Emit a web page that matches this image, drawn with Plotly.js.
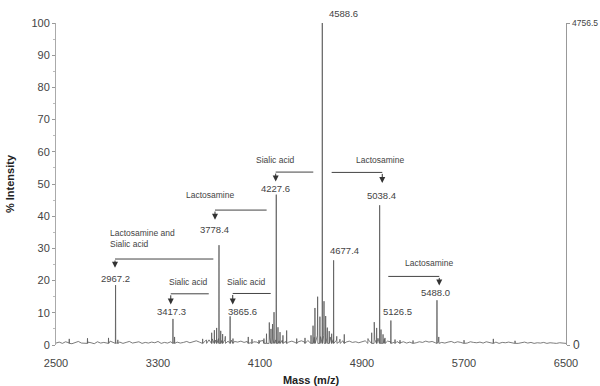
<!DOCTYPE html>
<html>
<head>
<meta charset="utf-8">
<script src="https://cdn.plot.ly/plotly-3.0.1.min.js"></script>
<style>html,body{margin:0;padding:0;background:#fff;}#chart{width:600px;height:386px;}</style>
</head>
<body>
<div id="chart"></div>
<script>
// ---- Data ----
// Labelled peaks (mass m/z, % intensity)
const labelledMass = [2967.2, 3417.3, 3778.4, 3865.6, 4227.6, 4588.6, 4677.4, 5038.4, 5126.5, 5488.0];
const labelledInt  = [18.6, 8.1, 31.0, 8.9, 46.7, 100, 26.3, 43.4, 7.6, 13.9];

// Minor (unlabelled) peaks
const minorMass = [2604, 2747, 2912, 2985, 3430, 3650, 3680,
  3721, 3742, 3760, 3792, 3807, 3828, 3888, 4008, 4037, 4092,
  4131, 4151, 4173, 4186, 4198, 4210, 4241, 4257, 4280, 4309, 4388, 4453,
  4500, 4516, 4531, 4552, 4570, 4602, 4615, 4628, 4643, 4662, 4702, 4727, 4761,
  4947, 4976, 4996, 5015, 5049, 5065, 5080, 5159, 5198,
  5300, 5502, 5700, 5930, 6100];
const minorInt = [1.9, 2.1, 2.2, 1.6, 2.5, 1.9, 1.6,
  3.8, 4.6, 5.3, 4.4, 3.4, 2.7, 2.0, 2.5, 1.8, 1.5,
  2.0, 3.5, 7.0, 5.0, 6.5, 10.2, 5.5, 4.0, 3.0, 4.5, 2.0, 2.2,
  3.0, 6.0, 11.5, 15.0, 8.8, 13.6, 9.0, 5.4, 4.3, 3.5, 2.7, 1.8, 3.3,
  2.0, 3.8, 7.1, 5.3, 4.8, 3.3, 2.2, 1.7, 1.5,
  1.4, 2.5, 1.5, 1.9, 1.3];

// Baseline noise, sampled every 25 m/z from 2500
const noiseStart = 2500, noiseStep = 25;
const noiseInt = [
  0.6,0.9,0.5,1.0,0.7,0.4,0.8,1.1,0.6,0.5,0.9,0.7,0.4,1.0,0.6,0.8,0.5,1.2,0.7,0.6,
  0.9,0.5,0.8,1.1,0.6,0.7,1.0,0.5,0.8,0.6,0.9,0.7,1.1,0.5,0.8,0.6,1.0,0.7,0.9,0.6,
  0.8,1.1,0.7,1.0,1.3,0.9,1.2,1.4,
  1.6,1.9,1.5,2.0,1.4,1.7,1.2,1.5,1.1,
  0.9,1.2,0.8,1.1,0.7,1.0,0.9,1.2,
  1.4,1.8,2.2,1.9,1.6,1.3,1.5,1.1,
  0.9,1.2,0.8,1.0,1.3,0.9,1.4,
  1.8,2.4,2.9,2.6,3.0,2.2,2.5,1.7,1.5,
  1.1,1.3,0.9,1.2,0.8,1.0,0.7,1.1,1.3,
  1.6,2.0,1.7,2.1,1.5,1.8,1.2,
  1.0,0.8,1.1,0.7,1.0,0.6,0.9,1.1,0.7,1.0,0.8,1.2,0.9,1.1,0.7,1.0,0.8,0.6,0.9,1.1,
  0.7,1.0,0.8,0.9,0.6,1.0,0.8,0.7,0.9,0.6,1.0,0.8,0.7,0.9,0.5,0.8,0.7,0.9,0.6,0.8,
  0.5,0.7,0.9,0.6,0.8,0.5,0.7,0.6,0.8,0.5,0.7,0.6,0.5,0.7,0.6,0.5];

// Right axis: absolute counts at 100 %
const maxCounts = 4756.5;
const xTicks = [2500, 3300, 4100, 4900, 5700, 6500];

// Peak labels: text, x, y (data coords)
const peakLabelText = ['2967.2','3417.3','3865.6','3778.4','4227.6','5038.4','4677.4','5126.5','5488.0','4588.6'];
const peakLabelX    = [2970, 3402, 3964, 3747, 4220, 5049, 4759, 5177, 5480, 4751];
const peakLabelY    = [20.6, 10.4, 10.4, 36.0, 48.5, 46.4, 29.4, 10.4, 16.2, 103.1];

// Loss annotations: text, text x/y, elbow start x, arrow x, elbow y, arrow tip y
const lossText  = ['Lactosamine and<br>Sialic acid', 'Sialic acid', 'Sialic acid', 'Lactosamine', 'Sialic acid', 'Lactosamine', 'Lactosamine'];
const lossTextX = [2908, 3543, 3996, 3708, 4223, 5041, 5428];
const lossTextY = [33.1, 19.6, 19.6, 46.7, 57.3, 57.4, 25.5];
const lossFromX = [3734, 3698, 4184, 4152, 4518, 4662, 5106];
const lossToX   = [2963, 3400, 3886, 3747, 4223, 5059, 5506];
const lossLineY = [26.7, 15.9, 16.0, 41.9, 53.7, 53.6, 21.3];
const lossTipY  = [24.0, 12.6, 12.6, 38.9, 50.8, 50.3, 18.5];

// ---- Build the stick spectrum ----
const pts = [];
noiseInt.forEach((v, i) => pts.push([noiseStart + noiseStep * i, v]));
const allMass = labelledMass.concat(minorMass);
const allInt = labelledInt.concat(minorInt);
allMass.forEach((m, i) => {
  pts.push([m - 1.5, 0.5]);
  pts.push([m, allInt[i]]);
  pts.push([m + 1.5, 0.5]);
});
pts.sort((a, b) => a[0] - b[0]);

const FONT = 'Liberation Sans, Arial, sans-serif';
const txtColor = '#444';

const traces = [
  {
    x: pts.map(p => p[0]), y: pts.map(p => p[1]),
    type: 'scatter', mode: 'lines',
    line: {color: '#5a5a5a', width: 0.8},
    hoverinfo: 'skip', showlegend: false
  },
  {
    x: [], y: [], yaxis: 'y2', type: 'scatter', mode: 'lines',
    showlegend: false, hoverinfo: 'skip'
  }
];

const annotations = [];
peakLabelText.forEach((t, i) => {
  const above = peakLabelY[i] > 100;
  annotations.push({
    x: peakLabelX[i], y: above ? peakLabelY[i] / 100 : peakLabelY[i],
    xref: 'x', yref: above ? 'paper' : 'y', text: t,
    showarrow: false, xanchor: 'center', yanchor: 'middle',
    font: {family: FONT, size: 9.5, color: txtColor}
  });
});
lossText.forEach((t, i) => {
  const multi = t.indexOf('<br>') >= 0;
  annotations.push({
    x: lossTextX[i], y: lossTextY[i], xref: 'x', yref: 'y', text: t,
    showarrow: false, xanchor: multi ? 'left' : 'center', yanchor: 'middle',
    align: multi ? 'left' : 'center',
    font: {family: FONT, size: 8.5, color: txtColor}
  });
  annotations.push({
    x: lossToX[i], y: lossTipY[i], xref: 'x', yref: 'y',
    ax: lossToX[i], ay: lossLineY[i], axref: 'x', ayref: 'y',
    text: '', showarrow: true, arrowhead: 2, arrowsize: 1.2, arrowwidth: 1,
    arrowcolor: '#333', standoff: 0, startstandoff: 0
  });
});
// right-axis labels
annotations.push({x: 1, y: 100, xref: 'paper', yref: 'y', text: String(maxCounts),
  showarrow: false, xanchor: 'left', yanchor: 'middle', xshift: 4,
  font: {family: FONT, size: 8.5, color: txtColor}});
annotations.push({x: 1, y: 0, xref: 'paper', yref: 'y', text: '0',
  showarrow: false, xanchor: 'left', yanchor: 'middle', xshift: 5,
  font: {family: FONT, size: 12, color: txtColor}});

const shapes = lossFromX.map((x0, i) => ({
  type: 'line', xref: 'x', yref: 'y',
  x0: x0, x1: lossToX[i], y0: lossLineY[i], y1: lossLineY[i],
  line: {color: '#444', width: 1}
}));

const layout = {
  width: 600, height: 386,
  margin: {l: 56, r: 34, t: 23, b: 41, pad: 0},
  paper_bgcolor: '#fff', plot_bgcolor: '#fff',
  font: {family: FONT, color: txtColor},
  showlegend: false,
  xaxis: {
    range: [2500, 6500], tickvals: xTicks, ticktext: xTicks.map(String),
    showline: false, zeroline: false, showgrid: false,
    ticks: 'outside', ticklen: 8, tickcolor: 'rgba(0,0,0,0)',
    tickfont: {size: 11, color: txtColor},
    title: {text: '<b>Mass (m/z)</b>', font: {size: 11, color: '#222'}, standoff: 9}
  },
  yaxis: {
    range: [0, 100], dtick: 10, ticks: 'outside', ticklen: 3, tickcolor: '#999',
    showline: true, linecolor: '#aaa', linewidth: 1,
    zeroline: false, showgrid: false,
    minor: {dtick: 5, ticks: 'outside', ticklen: 2, tickcolor: '#bbb'},
    tickfont: {size: 11, color: txtColor},
    title: {text: '<b>% Intensity</b>', font: {size: 11, color: '#222'}, standoff: 14}
  },
  yaxis2: {
    overlaying: 'y', side: 'right', range: [0, maxCounts],
    showline: true, linecolor: '#999', linewidth: 1,
    tickvals: [0, maxCounts], ticks: 'outside', ticklen: 3, tickcolor: '#999',
    showticklabels: false, zeroline: false, showgrid: false
  },
  annotations: annotations,
  shapes: shapes
};

Plotly.newPlot('chart', traces, layout, {displayModeBar: false, staticPlot: true});
</script>
</body>
</html>
